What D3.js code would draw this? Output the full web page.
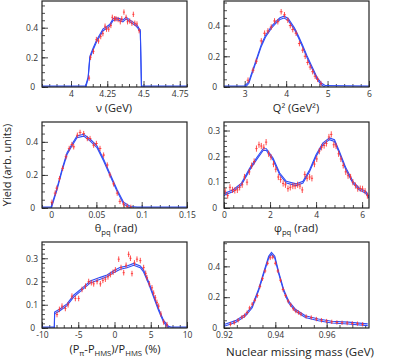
<!DOCTYPE html>
<html>
<head>
<meta charset="utf-8">
<script src="https://cdn.jsdelivr.net/npm/d3@7"></script>
<style>
  body { margin: 0; background: #fff; }
  svg { font-family: "Open Sans", "Noto Sans", sans-serif; }
</style>
</head>
<body>
<svg id="chart" width="409" height="362"></svg>
<script>
// --- data: nu (GeV)
var nuX   = [4.125, 4.135, 4.155, 4.175, 4.19, 4.205, 4.22, 4.235, 4.245, 4.26, 4.275, 4.285, 4.30, 4.31, 4.325, 4.34, 4.35, 4.365, 4.38, 4.39, 4.405, 4.42, 4.43, 4.44, 4.455, 4.47];
var nuY   = [0.06, 0.20, 0.24, 0.32, 0.31, 0.34, 0.36, 0.41, 0.39, 0.39, 0.415, 0.47, 0.46, 0.46, 0.455, 0.44, 0.46, 0.505, 0.47, 0.44, 0.445, 0.43, 0.49, 0.43, 0.425, 0.38];
var nuSimX = [3.8, 4.10, 4.118, 4.13, 4.15, 4.176, 4.20, 4.221, 4.245, 4.267, 4.29, 4.31, 4.335, 4.358, 4.38, 4.40, 4.426, 4.445, 4.46, 4.47, 4.478, 4.486, 4.8];
var nuSimY = [0, 0, 0.06, 0.2, 0.25, 0.31, 0.35, 0.386, 0.40, 0.415, 0.455, 0.46, 0.455, 0.445, 0.465, 0.45, 0.433, 0.42, 0.405, 0.386, 0.38, 0, 0];

// --- data: Q2 (GeV2)
var q2X = [3.08, 3.2, 3.28, 3.4, 3.48, 3.56, 3.64, 3.72, 3.8, 3.88, 3.96, 4.04, 4.1, 4.16, 4.24, 4.32, 4.4, 4.46, 4.52, 4.58, 4.64, 4.7, 4.76, 4.84];
var q2Y = [0.044, 0.109, 0.168, 0.30, 0.35, 0.365, 0.39, 0.43, 0.425, 0.49, 0.47, 0.435, 0.40, 0.374, 0.35, 0.283, 0.24, 0.20, 0.16, 0.13, 0.10, 0.07, 0.05, 0.022];
var q2SimX = [2.5, 3.0, 3.1, 3.25, 3.4, 3.5, 3.65, 3.75, 3.85, 3.95, 4.05, 4.1, 4.2, 4.3, 4.4, 4.5, 4.6, 4.75, 4.85, 4.95, 6.0];
var q2SimY = [0, 0, 0.03, 0.15, 0.27, 0.33, 0.39, 0.42, 0.445, 0.455, 0.44, 0.42, 0.38, 0.325, 0.265, 0.20, 0.14, 0.055, 0.02, 0.003, 0];

// --- data: theta_pq (rad)
var thX = [0.001, 0.0045, 0.0063, 0.0093, 0.0128, 0.0165, 0.02, 0.023, 0.025, 0.029, 0.032, 0.036, 0.04, 0.043, 0.047, 0.05, 0.054, 0.058, 0.062, 0.065, 0.069, 0.073, 0.076, 0.08, 0.084, 0.088];
var thY = [0.035, 0.09, 0.12, 0.177, 0.24, 0.31, 0.36, 0.384, 0.37, 0.44, 0.457, 0.45, 0.42, 0.42, 0.38, 0.39, 0.36, 0.32, 0.26, 0.20, 0.146, 0.09, 0.04, 0.024, 0.01, 0.004];
var thSimX = [-0.01, 0, 0.0066, 0.012, 0.0176, 0.023, 0.0286, 0.036, 0.0433, 0.0507, 0.058, 0.0654, 0.0728, 0.08, 0.0875, 0.095, 0.15];
var thSimY = [0, 0, 0.116, 0.227, 0.329, 0.38, 0.43, 0.44, 0.41, 0.37, 0.29, 0.197, 0.106, 0.03, 0.004, 0, 0];

// --- data: phi_pq (rad)
var phX = [0.05, 0.16, 0.26, 0.37, 0.47, 0.58, 0.68, 0.79, 0.89, 1.0, 1.1, 1.2, 1.31, 1.41, 1.52, 1.62, 1.73, 1.83, 1.94, 2.04, 2.15, 2.25, 2.36, 2.46, 2.57, 2.67, 2.78, 2.88, 2.99, 3.09, 3.2, 3.3, 3.4, 3.51, 3.61, 3.72, 3.82, 3.93, 4.03, 4.14, 4.24, 4.35, 4.45, 4.56, 4.66, 4.77, 4.87, 4.98, 5.08, 5.18, 5.29, 5.39, 5.5, 5.6, 5.71, 5.81, 5.92, 6.02, 6.13, 6.23];
var phY = [0.065, 0.048, 0.08, 0.07, 0.068, 0.07, 0.08, 0.09, 0.12, 0.10, 0.14, 0.164, 0.18, 0.23, 0.245, 0.24, 0.235, 0.255, 0.21, 0.197, 0.17, 0.15, 0.12, 0.11, 0.095, 0.09, 0.075, 0.08, 0.085, 0.085, 0.09, 0.085, 0.07, 0.13, 0.115, 0.12, 0.115, 0.17, 0.19, 0.22, 0.235, 0.242, 0.25, 0.275, 0.285, 0.245, 0.24, 0.21, 0.19, 0.165, 0.14, 0.125, 0.12, 0.10, 0.087, 0.075, 0.075, 0.074, 0.065, 0.048];
var phSimX = [0, 0.04, 0.4, 0.76, 1.12, 1.41, 1.7, 1.84, 2.13, 2.42, 2.71, 3.14, 3.43, 3.72, 4.0, 4.29, 4.58, 4.8, 5.01, 5.3, 5.6, 5.87, 6.16, 6.3];
var phSimY = [0.05, 0.054, 0.067, 0.093, 0.151, 0.19, 0.226, 0.226, 0.19, 0.132, 0.10, 0.09, 0.10, 0.145, 0.203, 0.248, 0.268, 0.261, 0.216, 0.151, 0.10, 0.074, 0.061, 0.041];

// --- data: delta (%)
var dlX = [-7.93, -7.6, -7.24, -6.78, -6.4, -5.87, -5.4, -4.94, -4.48, -4.0, -3.56, -3.2, -2.87, -2.4, -1.95, -1.6, -1.26, -0.9, -0.57, -0.2, 0.12, 0.58, 0.9, 1.27, 1.6, 1.95, 2.2, 2.41, 2.75, 3.1, 3.56, 4.02, 4.3, 4.48, 4.8, 5.17, 5.4, 5.63, 5.85, 6.09, 6.4, 6.78, 7.24];
var dlY = [0.058, 0.08, 0.094, 0.084, 0.10, 0.137, 0.127, 0.127, 0.166, 0.18, 0.20, 0.195, 0.19, 0.20, 0.19, 0.205, 0.21, 0.22, 0.23, 0.24, 0.25, 0.296, 0.26, 0.238, 0.27, 0.317, 0.30, 0.234, 0.28, 0.296, 0.29, 0.26, 0.235, 0.216, 0.19, 0.173, 0.15, 0.13, 0.11, 0.094, 0.06, 0.026, 0.014];
var dlSimX = [-10, -8.3, -8.26, -7.48, -6.55, -5.64, -4.26, -3.34, -1.96, -1.03, -0.12, 0.8, 1.72, 2.64, 3.56, 4.01, 4.7, 5.39, 6.08, 6.77, 7.46, 7.8, 10];
var dlSimY = [0, 0, 0.065, 0.079, 0.10, 0.137, 0.173, 0.198, 0.214, 0.224, 0.242, 0.257, 0.263, 0.274, 0.263, 0.245, 0.195, 0.137, 0.079, 0.029, 0.003, 0, 0];

// --- data: nuclear missing mass (GeV)
var mmX = [0.9225, 0.924, 0.9255, 0.927, 0.928, 0.929, 0.930, 0.931, 0.932, 0.933, 0.934, 0.935, 0.936, 0.937, 0.938, 0.939, 0.940, 0.941, 0.942, 0.943, 0.944, 0.945, 0.946, 0.947, 0.948, 0.949, 0.950, 0.952, 0.954, 0.956, 0.958, 0.960, 0.962, 0.964, 0.966, 0.968, 0.970, 0.972, 0.974];
var mmY = [0.025, 0.035, 0.05, 0.07, 0.08, 0.10, 0.13, 0.155, 0.18, 0.21, 0.27, 0.32, 0.37, 0.42, 0.455, 0.46, 0.42, 0.37, 0.31, 0.25, 0.21, 0.175, 0.15, 0.125, 0.11, 0.10, 0.09, 0.075, 0.068, 0.058, 0.05, 0.045, 0.04, 0.036, 0.034, 0.032, 0.03, 0.028, 0.024];
var mmSimX = [0.92, 0.9245, 0.9284, 0.931, 0.9336, 0.9355, 0.9374, 0.9385, 0.9398, 0.9413, 0.9433, 0.9452, 0.9478, 0.9517, 0.9568, 0.962, 0.9684, 0.976];
var mmSimY = [0.017, 0.042, 0.084, 0.137, 0.253, 0.358, 0.459, 0.484, 0.459, 0.358, 0.242, 0.168, 0.116, 0.074, 0.053, 0.038, 0.032, 0.021];

// error bar sizes (y half-length) per panel
var yErrs = [0.018, 0.018, 0.016, 0.012, 0.012, 0.014];

var svg = d3.select('#chart');

var panels = [
  { x: 42, y: 1, xd: [3.8, 4.8], yd: [0, 0.58], xt: [4, 4.25, 4.5, 4.75], xm: 0.05, yt: [0, 0.2, 0.4], ym: 0.05,
    dx: nuX, dy: nuY, sx: nuSimX, sy: nuSimY, xe: 0.007 },
  { x: 224, y: 1, xd: [2.5, 6], yd: [0, 0.56], xt: [3, 4, 5, 6], xm: 0.2, yt: [0, 0.2, 0.4], ym: 0.05,
    dx: q2X, dy: q2Y, sx: q2SimX, sy: q2SimY, xe: 0.035 },
  { x: 42, y: 122, xd: [-0.01, 0.15], yd: [0, 0.52], xt: [0, 0.05, 0.1, 0.15], xm: 0.01, yt: [0, 0.2, 0.4], ym: 0.05,
    dx: thX, dy: thY, sx: thSimX, sy: thSimY, xe: 0.0015 },
  { x: 224, y: 122, xd: [0, 6.3], yd: [0, 0.333], xt: [0, 2, 4, 6], xm: 0.4, yt: [0, 0.1, 0.2, 0.3], ym: 0.02,
    dx: phX, dy: phY, sx: phSimX, sy: phSimY, xe: 0.05 },
  { x: 42, y: 242, xd: [-10, 10], yd: [0, 0.37], xt: [-10, -5, 0, 5, 10], xm: 1, yt: [0, 0.1, 0.2, 0.3], ym: 0.02,
    dx: dlX, dy: dlY, sx: dlSimX, sy: dlSimY, xe: 0.15 },
  { x: 224, y: 242, xd: [0.92, 0.9765], yd: [0, 0.558], xt: [0.92, 0.94, 0.96], xm: 0.005, yt: [0, 0.2, 0.4], ym: 0.05,
    dx: mmX, dy: mmY, sx: mmSimX, sy: mmSimY, xe: 0.0005 }
];

var W = 145, H = 86;

function range(a, b, step) {
  var out = [], n = Math.round((b - a) / step);
  for (var i = 0; i <= n; i++) out.push(a + i * step);
  return out;
}

panels.forEach(function (p, i) {
  var g = svg.append('g').attr('transform', 'translate(' + p.x + ',' + p.y + ')');
  var x = d3.scaleLinear().domain(p.xd).range([0, W]);
  var y = d3.scaleLinear().domain(p.yd).range([H, 0]);

  g.append('defs').append('clipPath').attr('id', 'clip' + i)
    .append('rect').attr('width', W).attr('height', H);

  // minor ticks (inside)
  var xmin = range(Math.ceil(p.xd[0] / p.xm - 1e-6) * p.xm, p.xd[1], p.xm).filter(function (v) { return v <= p.xd[1] + 1e-9; });
  var ymin = range(0, p.yd[1], p.ym).filter(function (v) { return v <= p.yd[1] + 1e-9; });
  var xAxisMinor = d3.axisBottom(x).tickValues(xmin).tickSize(-3).tickFormat('');
  var yAxisMinor = d3.axisLeft(y).tickValues(ymin).tickSize(-3).tickFormat('');
  var xAxis = d3.axisBottom(x).tickValues(p.xt).tickSize(-6).tickPadding(3).tickFormat(function (d) { return String(+d.toFixed(4)); });
  var yAxis = d3.axisLeft(y).tickValues(p.yt).tickSize(-6).tickPadding(4).tickFormat(function (d) { return String(+d.toFixed(4)); });

  var ax = g.append('g').attr('transform', 'translate(0,' + H + ')');
  ax.call(xAxisMinor);
  ax.append('g').call(xAxis);
  var ay = g.append('g');
  ay.call(yAxisMinor);
  ay.append('g').call(yAxis);

  g.selectAll('.domain').remove();
  g.selectAll('.tick line').attr('stroke', '#222').attr('stroke-width', 0.8);
  g.selectAll('.tick text').attr('fill', '#333').attr('font-size', 8.5)
    .attr('font-family', '"Open Sans", "Noto Sans", sans-serif');
  ax.selectAll('.tick text').attr('dy', '0.8em');
  ay.selectAll('.tick text').filter(function (d) { return d === 0; }).attr('dx', -3);

  var plot = g.append('g').attr('clip-path', 'url(#clip' + i + ')');

  // simulation: doubled blue line
  var line = d3.line().x(function (d) { return x(d[0]); }).y(function (d) { return y(d[1]); });
  var pts = p.sx.map(function (v, k) { return [v, p.sy[k]]; });
  [-0.9, 0.9].forEach(function (off) {
    plot.append('path').datum(pts)
      .attr('d', line)
      .attr('transform', 'translate(0,' + off + ')')
      .attr('fill', 'none')
      .attr('stroke', '#2f4cf5')
      .attr('stroke-width', 1.1);
  });

  // data with error bars
  var e = yErrs[i];
  var dat = p.dx.map(function (v, k) { return [v, p.dy[k]]; });
  var pg = plot.selectAll('g.pt').data(dat).enter().append('g').attr('class', 'pt');
  pg.append('line')
    .attr('x1', function (d) { return x(d[0]); }).attr('x2', function (d) { return x(d[0]); })
    .attr('y1', function (d) { return y(d[1] - e); }).attr('y2', function (d) { return y(d[1] + e); })
    .attr('stroke', '#ff3030').attr('stroke-opacity', 0.85).attr('stroke-width', 1);
  pg.append('line')
    .attr('x1', function (d) { return x(d[0] - p.xe); }).attr('x2', function (d) { return x(d[0] + p.xe); })
    .attr('y1', function (d) { return y(d[1]); }).attr('y2', function (d) { return y(d[1]); })
    .attr('stroke', '#ff3030').attr('stroke-opacity', 0.85).attr('stroke-width', 1);

  // frame
  g.append('rect').attr('width', W).attr('height', H)
    .attr('fill', 'none').attr('stroke', '#222').attr('stroke-width', 1.2);
});

// axis titles
var fs = 11;
function title(cx, cy, parts, size) {
  var t = svg.append('text').attr('x', cx).attr('y', cy).attr('text-anchor', 'middle')
    .attr('font-size', size || fs).attr('fill', '#222');
  parts.forEach(function (s) {
    var ts = t.append('tspan').text(s[0]);
    if (s[1] === 'sub') ts.attr('font-size', (size || fs) * 0.7).attr('dy', 3);
    if (s[1] === 'up') ts.attr('dy', -3);
  });
  return t;
}
title(114, 112, [['\u03bd (GeV)']]);
title(296, 112, [['Q\u00b2 (GeV\u00b2)']]);
title(116, 232, [['\u03b8'], ['pq', 'sub'], [' (rad)', 'up']]);
title(296, 232, [['\u03c6'], ['pq', 'sub'], [' (rad)', 'up']]);
title(115, 353, [['(P'], ['\u03c0', 'sub'], ['-P', 'up'], ['HMS', 'sub'], [')/P', 'up'], ['HMS', 'sub'], [' (%)', 'up']]);
title(300, 356, [['Nuclear missing mass (GeV)']], 11.5);

svg.append('text')
  .attr('transform', 'translate(11,165) rotate(-90)')
  .attr('text-anchor', 'middle').attr('font-size', fs).attr('fill', '#222')
  .text('Yield (arb. units)');
</script>
</body>
</html>
